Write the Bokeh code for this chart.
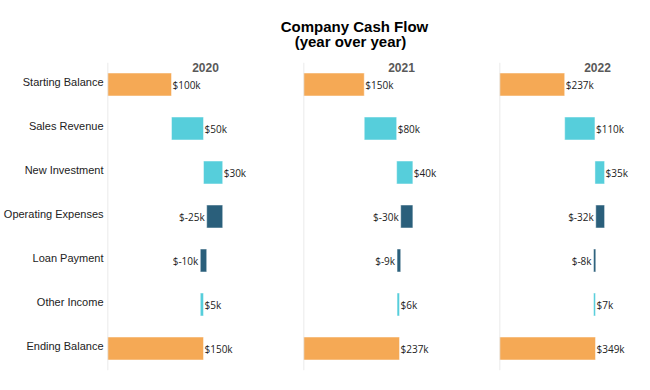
from bokeh.plotting import figure
from bokeh.models import Range1d, FactorRange, Span
from bokeh.layouts import row, column
from bokeh.embed import file_html
from bokeh.resources import INLINE
from bokeh.core.properties import value

# ---- data ----
categories = ["Starting Balance", "Sales Revenue", "New Investment",
              "Operating Expenses", "Loan Payment", "Other Income", "Ending Balance"]
years = ["2020", "2021", "2022"]
starting_balance = [100, 150, 237]
sales_revenue = [50, 80, 110]
new_investment = [30, 40, 35]
operating_expenses = [-25, -30, -32]
loan_payment = [-10, -9, -8]
other_income = [5, 6, 7]
ending_balance = [150, 237, 349]
title_lines = ["Company Cash Flow", "(year over year)"]

# ---- style ----
ORANGE = "#F5A955"
CYAN = "#56CEDB"
NAVY = "#2A5F7B"
AXIS_GRAY = "#E3E3E3"
LABEL_FONT = "Liberation Sans"
VALUE_FONT = "Open Sans"

PAGE_W = 650
TITLE_H = 56
LEFT = 107         # width of the category label area
PANEL_W = 196      # nominal panel width
FRAME_WIDTHS = [196, 196, 151]
BAR_PX = 96        # pixel length of each panel's ending balance bar
TOP, FRAME_H, BOTTOM = 6, 308, 5
FIG_H = TOP + FRAME_H + BOTTOM

y_factors = list(reversed(categories))


def bare(p):
    p.outline_line_color = None
    p.grid.visible = False
    p.axis.visible = False
    return p


# ---- category label column ----
lab = bare(figure(width=LEFT, height=FIG_H, x_range=Range1d(0, 1),
                  y_range=FactorRange(factors=y_factors),
                  toolbar_location=None, output_backend="svg",
                  min_border_left=0, min_border_right=0,
                  min_border_top=TOP, min_border_bottom=BOTTOM))
lab.text(x=[1] * len(categories), y=categories, text=categories, x_offset=-4, y_offset=-3,
         text_align="right", text_baseline="middle", text_font=value(LABEL_FONT),
         text_font_size="11px", text_color="#222222")

figs = [lab]
for i, yr in enumerate(years):
    deltas = [sales_revenue[i], new_investment[i], operating_expenses[i],
              loan_payment[i], other_income[i]]
    lefts = [0]
    rights = [starting_balance[i]]
    colors = [ORANGE]
    cum = starting_balance[i]
    for d in deltas:
        lefts.append(min(cum, cum + d))
        rights.append(max(cum, cum + d))
        colors.append(CYAN if d >= 0 else NAVY)
        cum += d
    lefts.append(0)
    rights.append(ending_balance[i])
    colors.append(ORANGE)
    values = [starting_balance[i]] + deltas + [ending_balance[i]]

    x_end = FRAME_WIDTHS[i] * ending_balance[i] / BAR_PX
    p = bare(figure(width=FRAME_WIDTHS[i], height=FIG_H,
                    x_range=Range1d(0, x_end), y_range=FactorRange(factors=y_factors),
                    toolbar_location=None, output_backend="svg",
                    min_border_left=0, min_border_right=0,
                    min_border_top=TOP, min_border_bottom=BOTTOM))

    p.add_layout(Span(location=0, dimension="height", line_color=AXIS_GRAY, line_width=1.5))

    p.hbar(y=categories, left=lefts, right=rights, height=0.52,
           fill_color=colors, line_color="white", line_alpha=0.45, line_width=1)

    pos_y = [c for c, v in zip(categories, values) if v >= 0]
    pos_x = [r for r, v in zip(rights, values) if v >= 0]
    pos_t = [f"${v}k" for v in values if v >= 0]
    neg_y = [c for c, v in zip(categories, values) if v < 0]
    neg_x = [l for l, v in zip(lefts, values) if v < 0]
    neg_t = [f"${v}k" for v in values if v < 0]

    p.text(x=pos_x, y=pos_y, text=pos_t, x_offset=1, text_align="left",
           text_baseline="middle", text_font=value(VALUE_FONT),
           text_font_size="10px", text_color="#222222")
    p.text(x=neg_x, y=neg_y, text=neg_t, x_offset=-2, text_align="right",
           text_baseline="middle", text_font=value(VALUE_FONT),
           text_font_size="10px", text_color="#222222")

    # year header
    p.text(x=[(PANEL_W / 2) * ending_balance[i] / BAR_PX], y=[categories[0]], text=[yr],
           y_offset=-17, text_align="center", text_baseline="middle",
           text_font=value(LABEL_FONT), text_font_size="12px",
           text_font_style="bold", text_color="#595959")
    figs.append(p)

# ---- title (pixel coordinate space) ----
t = bare(figure(width=PAGE_W, height=TITLE_H, x_range=Range1d(0, PAGE_W),
                y_range=Range1d(TITLE_H, 0),
                toolbar_location=None, output_backend="svg",
                min_border_left=0, min_border_right=0, min_border_top=0, min_border_bottom=0))
t.text(x=[354, 350], y=[26, 41], text=title_lines, text_align="center",
       text_baseline="middle", text_font=value(LABEL_FONT), text_font_size="15px",
       text_font_style="bold", text_color="#000000")

layout = column(t, row(*figs))
open("out.html", "w").write(file_html(layout, INLINE))
